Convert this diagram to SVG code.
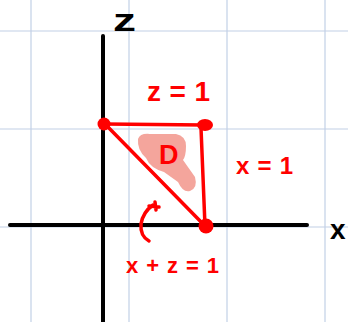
<svg xmlns="http://www.w3.org/2000/svg" width="348" height="322" viewBox="0 0 348 322">
<style>
.grid{stroke:#c2d0e6;stroke-width:1.2;fill:none}
.axis{stroke:#000;stroke-width:4;stroke-linecap:round;fill:none}
.edge{stroke:#ff0000;stroke-width:3.5;stroke-linecap:round;fill:none}
.dot{fill:#ff0000}
.lbl{font-family:"Liberation Sans","DejaVu Sans",sans-serif;font-weight:bold;fill:#ff0000}
.ax{font-family:"Liberation Sans","DejaVu Sans",sans-serif;font-weight:bold;fill:#000}
</style>
<rect width="348" height="322" fill="#fff"/>
<g id="grid">
<line class="grid" x1="31" y1="0" x2="31" y2="322"/>
<line class="grid" x1="129" y1="0" x2="129" y2="322"/>
<line class="grid" x1="227" y1="0" x2="227" y2="322"/>
<line class="grid" x1="325" y1="0" x2="325" y2="322"/>
<line class="grid" x1="0" y1="31" x2="348" y2="31"/>
<line class="grid" x1="0" y1="129" x2="348" y2="129"/>
<line class="grid" x1="0" y1="227" x2="348" y2="227"/>
</g>
<g id="axes">
<line class="axis" x1="103" y1="36" x2="103" y2="322"/>
<line class="axis" x1="10" y1="225" x2="307" y2="225"/>
<text class="ax" x="113" y="31" font-size="31" textLength="23" lengthAdjust="spacingAndGlyphs">z</text>
<text class="ax" x="330" y="239" font-size="28">x</text>
</g>
<g id="region-D">
<path d="M138,139 Q140,133 150,134 L176,134 Q186,136 186,146 Q186,156 183,160 L195,177 Q198,188 190,191 Q183,193 178,182 L164,172 Q150,168 146,158 Q137,150 138,139 Z" fill="#f4a59c"/>
<text class="lbl" x="159" y="164" font-size="27" textLength="26">D</text>
</g>
<g id="connectors">
<line class="edge" x1="105" y1="124" x2="204" y2="125"/>
<line class="edge" x1="201" y1="128" x2="205" y2="226"/>
<line class="edge" x1="105" y1="124" x2="206" y2="227"/>
<path class="edge" d="M149,241 Q140,236 141,224 Q143,212 153,205" stroke-width="3"/>
<path class="edge" d="M149,206 L159,207 M155,202 L156,210" stroke-width="2.5"/>
</g>
<g id="vertex-0-1">
<circle class="dot" cx="104" cy="124" r="6.5"/>
</g>
<g id="vertex-1-1">
<ellipse class="dot" cx="205" cy="125" rx="8" ry="6"/>
</g>
<g id="vertex-1-0">
<circle class="dot" cx="206" cy="226" r="7.5"/>
</g>
<g id="labels">
<text class="lbl" x="147" y="101" font-size="28" textLength="63" lengthAdjust="spacing">z = 1</text>
<text class="lbl" x="236" y="174" font-size="24" textLength="57" lengthAdjust="spacing">x = 1</text>
<text class="lbl" x="126" y="273" font-size="22" textLength="93" lengthAdjust="spacing">x + z = 1</text>
</g>
</svg>
